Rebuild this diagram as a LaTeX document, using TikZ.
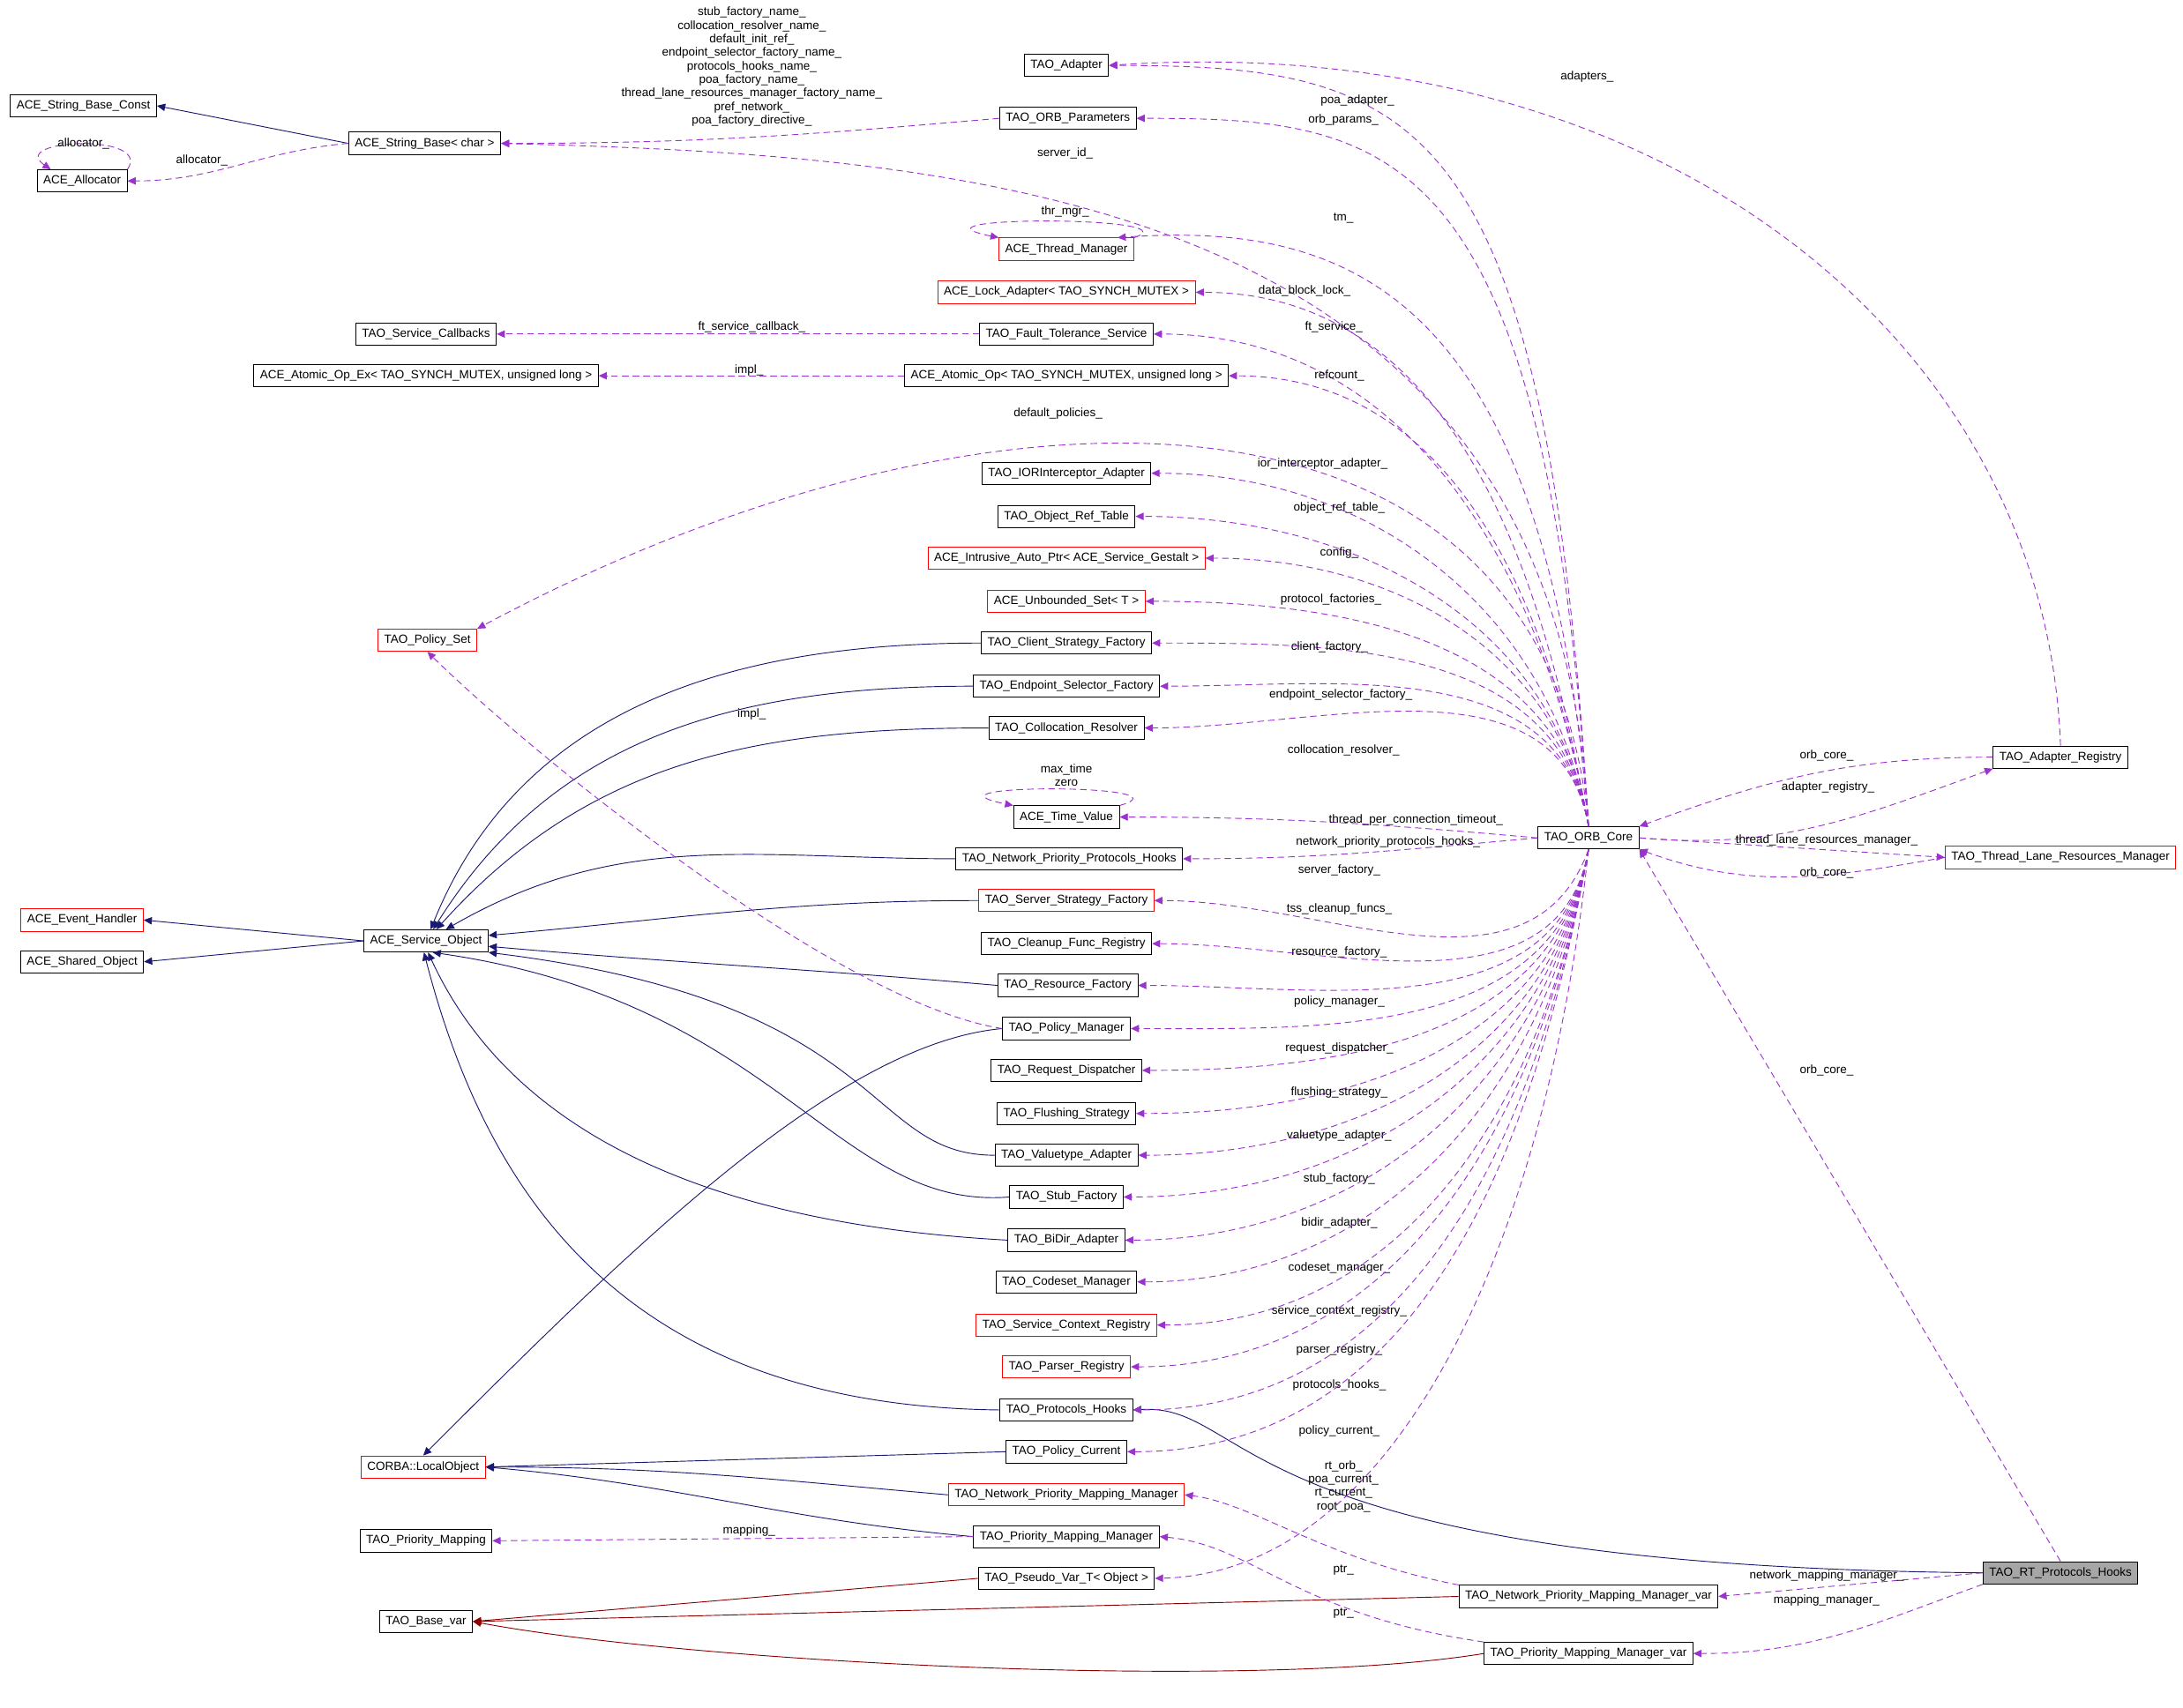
\documentclass[tikz,border=0pt]{standalone}
\usepackage{fontspec}
\setmainfont{Liberation Sans}
\usetikzlibrary{arrows.meta, calc}
\definecolor{inhblue}{RGB}{25,25,112}
\definecolor{usepurple}{RGB}{154,50,205}
\definecolor{tmplred}{RGB}{139,0,0}
\newcommand{\fsz}{\fontsize{7.3}{8.3}\selectfont}

\begin{document}
\catcode`\_=12
\begin{tikzpicture}[
    x=0.03cm, y=-0.03cm,
    cls/.style={draw=black, fill=white, line width=0.5pt, inner xsep=3.8pt, inner ysep=0pt, minimum height=0.48cm, font=\fsz},
    redcls/.style={cls, draw=red},
    hlcls/.style={cls, fill=black!35},
    inh/.style={draw=inhblue, line width=0.5pt, -{Triangle[length=5pt,width=4.5pt]}},
    tmpl/.style={inh, draw=tmplred},
    use/.style={draw=usepurple, line width=0.5pt, dash pattern=on 4pt off 2.5pt, -{Triangle[length=5pt,width=4.5pt]}},
    lbl/.style={font=\fsz, inner sep=0.5pt, align=center}
]
\useasboundingbox (0,0) rectangle (1568,1227);

% left column
\node[cls] (sbconst) at (60,76) {ACE_String_Base_Const};
\node[cls] (alloc) at (59,130) {ACE_Allocator};
\node[cls] (sbase) at (305,103) {ACE_String_Base< char >};
\node[cls] (svccb) at (306,240) {TAO_Service_Callbacks};
\node[cls] (atomicex) at (306,270) {ACE_Atomic_Op_Ex< TAO_SYNCH_MUTEX, unsigned long >};
\node[redcls] (pset) at (307,460) {TAO_Policy_Set};
\node[redcls] (evh) at (59,661) {ACE_Event_Handler};
\node[cls] (shobj) at (59,691) {ACE_Shared_Object};
\node[cls] (svcobj) at (306,676) {ACE_Service_Object};
\node[redcls] (localobj) at (304,1054) {CORBA::LocalObject};
\node[cls] (primap) at (306,1107) {TAO_Priority_Mapping};
\node[cls] (basevar) at (306,1165) {TAO_Base_var};

% middle column
\node[cls] (adapter) at (766,47) {TAO_Adapter};
\node[cls] (orbparams) at (767,85) {TAO_ORB_Parameters};
\node[redcls] (thrmgr) at (766,179) {ACE_Thread_Manager};
\node[redcls] (lockad) at (766,210) {ACE_Lock_Adapter< TAO_SYNCH_MUTEX >};
\node[cls] (ftsvc) at (766,240) {TAO_Fault_Tolerance_Service};
\node[cls] (atomicop) at (766,270) {ACE_Atomic_Op< TAO_SYNCH_MUTEX, unsigned long >};
\node[cls] (iorint) at (766,340) {TAO_IORInterceptor_Adapter};
\node[cls] (objref) at (766,371) {TAO_Object_Ref_Table};
\node[redcls] (intrusive) at (766,401) {ACE_Intrusive_Auto_Ptr< ACE_Service_Gestalt >};
\node[redcls] (unbset) at (766,432) {ACE_Unbounded_Set< T >};
\node[cls] (clientsf) at (766,462) {TAO_Client_Strategy_Factory};
\node[cls] (endpointsf) at (766,493) {TAO_Endpoint_Selector_Factory};
\node[cls] (colloc) at (766,523) {TAO_Collocation_Resolver};
\node[cls] (timeval) at (766,587) {ACE_Time_Value};
\node[cls] (npph) at (768,617) {TAO_Network_Priority_Protocols_Hooks};
\node[redcls] (serversf) at (766,647) {TAO_Server_Strategy_Factory};
\node[cls] (cleanup) at (766,678) {TAO_Cleanup_Func_Registry};
\node[cls] (resf) at (767,708) {TAO_Resource_Factory};
\node[cls] (polmgr) at (766,739) {TAO_Policy_Manager};
\node[cls] (reqdisp) at (766,769) {TAO_Request_Dispatcher};
\node[cls] (flush) at (766,800) {TAO_Flushing_Strategy};
\node[cls] (valuet) at (766,830) {TAO_Valuetype_Adapter};
\node[cls] (stubf) at (766,860) {TAO_Stub_Factory};
\node[cls] (bidir) at (766,891) {TAO_BiDir_Adapter};
\node[cls] (codeset) at (766,921) {TAO_Codeset_Manager};
\node[redcls] (svcctx) at (766,952) {TAO_Service_Context_Registry};
\node[redcls] (parser) at (766,982) {TAO_Parser_Registry};
\node[cls] (prothooks) at (766,1013) {TAO_Protocols_Hooks};
\node[cls] (polcur) at (766,1043) {TAO_Policy_Current};
\node[redcls] (npmm) at (766,1074) {TAO_Network_Priority_Mapping_Manager};
\node[cls] (pmm) at (766,1104) {TAO_Priority_Mapping_Manager};
\node[cls] (pseudo) at (766,1134) {TAO_Pseudo_Var_T< Object >};
\node[cls] (npmmvar) at (1141,1147) {TAO_Network_Priority_Mapping_Manager_var};
\node[cls] (pmmvar) at (1141,1188) {TAO_Priority_Mapping_Manager_var};

% right column
\node[cls] (core) at (1141,602) {TAO_ORB_Core};
\node[cls] (adreg) at (1480,544) {TAO_Adapter_Registry};
\node[redcls] (tlrm) at (1480,616) {TAO_Thread_Lane_Resources_Manager};
\node[hlcls] (rthooks) at (1480,1130) {TAO_RT_Protocols_Hooks};

% inheritance
\draw[inh] (sbase.west) -- (sbconst.east);
\draw[inh] (svcobj.west) -- (evh.east);
\draw[inh] (svcobj.west) -- (shobj.east);
\foreach \n/\a in {clientsf/68, endpointsf/58, colloc/48, npph/30}
  \draw[inh] (\n.west) to[out=180, in=\a] (svcobj);
\draw[inh] (serversf.west) to[out=180, in=5] (svcobj);
\draw[inh] (resf.west) to[out=175, in=-5] (svcobj);
\draw[inh] (valuet.west) .. controls (620,830) and (640,720) .. (svcobj.south east);
\draw[inh] (stubf.west) .. controls (600,870) and (560,720) .. (svcobj.-60);
\draw[inh] (bidir.west) .. controls (520,880) and (370,820) .. (svcobj.-80);
\draw[inh] (prothooks.west) .. controls (450,1010) and (350,860) .. (svcobj.-100);
\draw[inh] (polmgr.west) .. controls (600,750) and (450,900) .. (localobj.north);
\draw[inh] (polcur.west) -- (localobj.east);
\draw[inh] (npmm.west) to[out=175, in=0] (localobj.east);
\draw[inh] (pmm.west) to[out=175, in=-5] (localobj.east);
\draw[inh] (rthooks.west) .. controls (880,1125) and (900,1008) .. (prothooks.east);
\draw[tmpl] (pseudo.west) -- (basevar.east);
\draw[tmpl] (npmmvar.west) -- (basevar.east);
\draw[tmpl] (pmmvar.west) .. controls (900,1215) and (500,1195) .. (basevar.east);

% usage, self loops
\draw[use] (alloc.north east) .. controls (110,95) and (5,100) .. ($(alloc.north west)+(10,0)$);
\node[lbl] (lalloc) at (60,103) {allocator_};
\draw[use] (thrmgr.north east) .. controls (860,155) and (640,155) .. (thrmgr.north west);
\node[lbl] (lthr) at (765,152) {thr_mgr_};
\draw[use] (timeval.north east) .. controls (860,563) and (650,563) .. (timeval.north west);
\node[lbl] (lmax) at (766,557) {max_time\\zero};

% usage, left side
\draw[use] (sbase.west) to[out=185, in=0] (alloc.east);
\node[lbl] (lalloc2) at (145,115) {allocator_};
\draw[use] (orbparams.west) to[out=185, in=0] (sbase.east);
\node[lbl] (lnames) at (540,48) {stub_factory_name_\\collocation_resolver_name_\\default_init_ref_\\endpoint_selector_factory_name_\\protocols_hooks_name_\\poa_factory_name_\\thread_lane_resources_manager_factory_name_\\pref_network_\\poa_factory_directive_};
\draw[use] (ftsvc.west) -- (svccb.east);
\node[lbl] (lftcb) at (540,235) {ft_service_callback_};
\draw[use] (atomicop.west) -- (atomicex.east);
\node[lbl] (limpl) at (538,266) {impl_};
\draw[use] (polmgr.west) .. controls (600,720) and (380,540) .. (pset.south);
\node[lbl] (limpl2) at (540,513) {impl_};
\draw[use] (pmm.west) -- (primap.east);
\node[lbl] (lmapping) at (538,1100) {mapping_};

% usage from the ORB core
\draw[use] (core.north) .. controls (1120,140) and (700,112) .. (sbase.east);
\node[lbl] (lserverid) at (765,110) {server_id_};
\draw[use] (core.north) .. controls (1110,250) and (700,260) .. (pset.north east);
\node[lbl] (ldefpol) at (760,297) {default_policies_};
\draw[use] (core.north) .. controls (1110,80) and (1020,47) .. (adapter.east);
\node[lbl] (lpoaad) at (975,72) {poa_adapter_};
\draw[use] (core.north) .. controls (1110,100) and (1000,85) .. (orbparams.east);
\node[lbl] (lorbp) at (965,86) {orb_params_};
\draw[use] (core.north) .. controls (1110,200) and (960,160) .. ($(thrmgr.north east)+(-12,0)$);
\node[lbl] (ltm) at (965,157) {tm_};
\foreach \n/\l/\lx/\ly in {lockad/data_block_lock_/937/209, ftsvc/ft_service_/958/235, atomicop/refcount_/962/270,
    iorint/ior_interceptor_adapter_/950/333, objref/object_ref_table_/962/365, intrusive/config_/962/397,
    unbset/protocol_factories_/956/431, clientsf/client_factory_/955/465, endpointsf/endpoint_selector_factory_/963/499,
    colloc/collocation_resolver_/965/539}
{
  \draw[use] (core.north) to[out=100, in=0] (\n.east);
  \node[lbl] (l\n) at (\lx,\ly) {\l};
}
\draw[use] (core.west) to[out=175, in=0] (timeval.east);
\node[lbl] (ltimeval) at (1017,589) {thread_per_connection_timeout_};
\draw[use] (core.west) to[out=185, in=0] (npph.east);
\node[lbl] (lnpph) at (997,605) {network_priority_protocols_hooks_};
\draw[use] (core.south) to[out=250, in=0] (serversf.east);
\node[lbl] (lserversf) at (962,625) {server_factory_};
\foreach \n/\l/\ly in {cleanup/tss_cleanup_funcs_/653, resf/resource_factory_/684, polmgr/policy_manager_/720,
    reqdisp/request_dispatcher_/753, flush/flushing_strategy_/785, valuet/valuetype_adapter_/816,
    stubf/stub_factory_/847, bidir/bidir_adapter_/879, codeset/codeset_manager_/911,
    svcctx/service_context_registry_/942, parser/parser_registry_/970, prothooks/protocols_hooks_/995,
    polcur/policy_current_/1028}
{
  \draw[use] (core.south) to[out=260, in=0] (\n.east);
  \node[lbl] (l\n) at (962,\ly) {\l};
}
\draw[use] (core.south) .. controls (1110,900) and (1000,1130) .. (pseudo.east);
\node[lbl] (lpseudo) at (965,1068) {rt_orb_\\poa_current_\\rt_current_\\root_poa_};

% usage, right side
\draw[use] (adreg.north) .. controls (1470,250) and (1200,20) .. (adapter.east);
\node[lbl] (ladapters) at (1140,55) {adapters_};
\draw[use] (adreg.west) to[out=180, in=20] (core.north east);
\node[lbl] (ladcore) at (1312,543) {orb_core_};
\draw[use] (core.east) to[out=-5, in=200] (adreg.south west);
\node[lbl] (ladreg) at (1313,566) {adapter_registry_};
\draw[use] (core.east) -- (tlrm.west);
\node[lbl] (ltlrm) at (1312,604) {thread_lane_resources_manager_};
\draw[use] (tlrm.west) to[out=190, in=-20] (core.south east);
\node[lbl] (ltlcore) at (1312,627) {orb_core_};
\draw[use] (rthooks.north) -- (core.south east);
\node[lbl] (lrtcore) at (1312,769) {orb_core_};
\draw[use] (rthooks.west) -- (npmmvar.east);
\node[lbl] (lnmm) at (1312,1132) {network_mapping_manager_};
\draw[use] (rthooks.south west) to[out=200, in=0] (pmmvar.east);
\node[lbl] (lmm) at (1312,1150) {mapping_manager_};
\draw[use] (npmmvar.north west) .. controls (950,1120) and (900,1080) .. (npmm.east);
\node[lbl] (lptr1) at (965,1128) {ptr_};
\draw[use] (pmmvar.north west) .. controls (930,1160) and (900,1110) .. (pmm.east);
\node[lbl] (lptr2) at (965,1159) {ptr_};
\end{tikzpicture}
\end{document}
